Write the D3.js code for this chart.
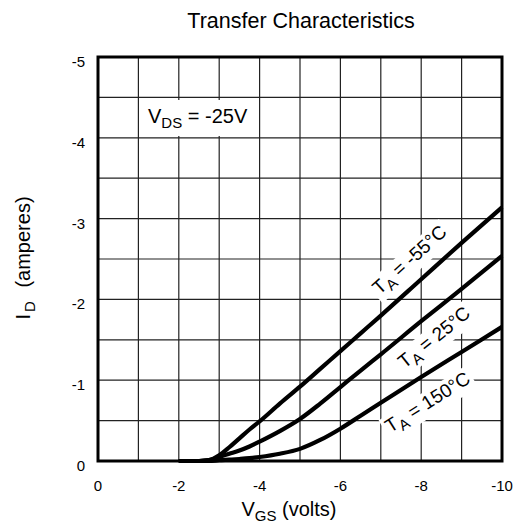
<!DOCTYPE html>
<html>
<head>
<meta charset="utf-8">
<script src="https://cdn.jsdelivr.net/npm/d3@7"></script>
<style>
  body { margin: 0; background: #fff; }
  svg { display: block; font-family: "Liberation Sans", Arial, sans-serif; }
</style>
</head>
<body>
<svg width="519" height="525"></svg>
<script>
// valores (VGS en voltios, ID en amperios)
var vgs = [-2, -2.5, -2.75, -3, -3.25, -3.5, -3.75, -4, -4.5, -5, -5.5, -6, -6.5, -7, -8, -9, -10];
var id55 = [0, 0, -0.01, -0.07, -0.17, -0.28, -0.39, -0.49, -0.71, -0.92, -1.14, -1.36, -1.58, -1.80, -2.25, -2.70, -3.14];
var id25 = [0, 0, -0.01, -0.05, -0.09, -0.13, -0.18, -0.24, -0.37, -0.52, -0.71, -0.915, -1.12, -1.32, -1.73, -2.13, -2.54];
var id150 = [0, 0, 0, -0.01, -0.017, -0.025, -0.035, -0.05, -0.09, -0.15, -0.26, -0.40, -0.56, -0.72, -1.04, -1.35, -1.66];
var seriesNames = ["-55", "25", "150"];
var xTicks = [0, -2, -4, -6, -8, -10];
var yTicks = [0, -1, -2, -3, -4, -5];

var margin = { top: 57, right: 17, bottom: 64, left: 98 },
    width = 519 - margin.left - margin.right,
    height = 525 - margin.top - margin.bottom;

var svg = d3.select("svg");

var x = d3.scaleLinear().domain([0, -10]).range([margin.left, margin.left + width]);
var y = d3.scaleLinear().domain([0, -5]).range([margin.top + height, margin.top]);

// rejilla: cada voltio y cada 0.5 A
svg.append("g").selectAll("line")
    .data(d3.range(1, 10).map(function(d) { return -d; }))
    .enter().append("line")
    .attr("x1", function(d) { return x(d); })
    .attr("x2", function(d) { return x(d); })
    .attr("y1", y(0)).attr("y2", y(-5))
    .attr("stroke", "#222").attr("stroke-width", 1.2);

svg.append("g").selectAll("line")
    .data(d3.range(1, 10).map(function(d) { return -d / 2; }))
    .enter().append("line")
    .attr("y1", function(d) { return y(d); })
    .attr("y2", function(d) { return y(d); })
    .attr("x1", x(0)).attr("x2", x(-10))
    .attr("stroke", "#222").attr("stroke-width", 1.2);

// etiquetas de los ejes
svg.append("g")
    .attr("font-size", 15)
    .attr("text-anchor", "middle")
    .selectAll("text")
    .data(xTicks)
    .enter().append("text")
    .attr("x", function(d) { return x(d); })
    .attr("y", 491)
    .text(function(d) { return d; });

svg.append("g")
    .attr("font-size", 15)
    .attr("text-anchor", "end")
    .selectAll("text")
    .data(yTicks)
    .enter().append("text")
    .attr("x", 85)
    .attr("y", function(d) { return y(d) + 10; })
    .text(function(d) { return d; });

// cuadro VDS
svg.append("rect")
    .attr("x", 140).attr("y", 100).attr("width", 116).attr("height", 36)
    .attr("fill", "#fff");
var vds = svg.append("text")
    .attr("x", 148).attr("y", 123)
    .attr("font-size", 20);
vds.append("tspan").text("V");
vds.append("tspan").attr("font-size", 15).attr("dy", 5).text("DS");
vds.append("tspan").attr("dy", -5).text(" = -25V");

var series = [id55, id25, id150];

// etiquetas de temperatura a lo largo de la curva (antes de las curvas)
var labelAt = [-8.08, -8.0, -7.83];
var labelOffset = [-22, 21, 25];

function valueAt(s, v) {
  var i = d3.bisector(function(d) { return -d; }).left(vgs, -v);
  i = Math.max(1, Math.min(vgs.length - 1, i));
  var t = (v - vgs[i - 1]) / (vgs[i] - vgs[i - 1]);
  return s[i - 1] + t * (s[i] - s[i - 1]);
}

series.forEach(function(s, k) {
  var v = labelAt[k];
  var px = x(v), py = y(valueAt(s, v));
  var px2 = x(v - 0.3), py2 = y(valueAt(s, v - 0.3));
  var ang = Math.atan2(py2 - py, px2 - px);
  var nx = Math.sin(ang), ny = -Math.cos(ang);
  var cx = px - nx * labelOffset[k], cy = py - ny * labelOffset[k];
  var g = svg.append("g")
      .attr("transform", "translate(" + cx + "," + cy + ") rotate(" + (ang * 180 / Math.PI) + ")");
  var t = g.append("text")
      .attr("text-anchor", "middle")
      .attr("y", 6)
      .attr("font-size", 19);
  t.append("tspan").text("T");
  t.append("tspan").attr("font-size", 15).attr("dy", 5).text("A");
  t.append("tspan").attr("dy", -5).text(" = " + seriesNames[k] + "°C");
  var bb = t.node().getBBox();
  g.insert("rect", "text")
      .attr("x", bb.x - 3).attr("y", bb.y)
      .attr("width", bb.width + 6).attr("height", bb.height)
      .attr("fill", "#fff");
});

// curvas
var line = d3.line()
    .x(function(d, i) { return x(vgs[i]); })
    .y(function(d) { return y(d); })
    .curve(d3.curveMonotoneX);

svg.append("g").selectAll("path")
    .data(series)
    .enter().append("path")
    .attr("d", line)
    .attr("fill", "none")
    .attr("stroke", "#000")
    .attr("stroke-width", 4.2)
    .attr("stroke-linejoin", "round");

// marco
svg.append("rect")
    .attr("x", x(0)).attr("y", y(-5))
    .attr("width", width).attr("height", height)
    .attr("fill", "none")
    .attr("stroke", "#000")
    .attr("stroke-width", 3);

// titulos
svg.append("text")
    .attr("x", 301).attr("y", 28)
    .attr("text-anchor", "middle")
    .attr("font-size", 21.5)
    .text("Transfer Characteristics");

var xt = svg.append("text")
    .attr("x", 289).attr("y", 516)
    .attr("text-anchor", "middle")
    .attr("font-size", 20);
xt.append("tspan").text("V");
xt.append("tspan").attr("font-size", 15).attr("dy", 5).text("GS");
xt.append("tspan").attr("dy", -5).text(" (volts)");

var yt = svg.append("text")
    .attr("transform", "translate(30,258) rotate(-90)")
    .attr("text-anchor", "middle")
    .attr("font-size", 20);
yt.append("tspan").text("I");
yt.append("tspan").attr("font-size", 15).attr("dx", 2).attr("dy", 5).text("D");
yt.append("tspan").attr("dx", 8).attr("dy", -5).text(" (amperes)");
</script>
</body>
</html>
